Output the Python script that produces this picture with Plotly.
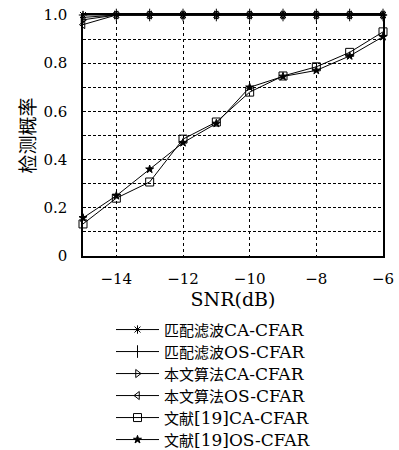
import plotly.graph_objects as go

snr = [-15, -14, -13, -12, -11, -10, -9, -8, -7, -6]
mf_ca = [1.0, 1, 1, 1, 1, 1, 1, 1, 1, 1]
mf_os = [0.99, 1, 1, 1, 1, 1, 1, 1, 1, 1]
our_ca = [0.98, 1, 1, 1, 1, 1, 1, 1, 1, 1]
our_os = [0.96, 1, 1, 1, 1, 1, 1, 1, 1, 1]
ref_ca = [0.133, 0.24, 0.307, 0.485, 0.556, 0.68, 0.747, 0.785, 0.845, 0.93]
ref_os = [0.158, 0.25, 0.36, 0.47, 0.55, 0.70, 0.745, 0.77, 0.83, 0.91]

names_cn = ["匹配滤波", "匹配滤波", "本文算法", "本文算法", "文献", "文献"]
names_en = ["CA-CFAR", "OS-CFAR", "CA-CFAR", "OS-CFAR", "[19]CA-CFAR", "[19]OS-CFAR"]
series = [mf_ca, mf_os, our_ca, our_os, ref_ca, ref_os]
symbols = ["asterisk-open", "line-ns-open", "triangle-right-open",
           "triangle-left-open", "square-open", "star"]
sizes = [7, 9, 7, 7, 8, 6]

SERIF = "DejaVu Serif, Noto Sans CJK SC, serif"
CJK = "Noto Sans CJK SC"

PLOT_TOP, PLOT_BOTTOM = 15, 256
row_px = [330, 352, 374, 396, 418, 440]

fig = go.Figure()
for i, (cn, en, ys, sym, sz) in enumerate(zip(names_cn, names_en, series, symbols, sizes)):
    lg = "legend" if i == 0 else f"legend{i + 1}"
    label = f"<span style=\"font-family:{CJK};font-size:15px\">{cn}</span>{en}"
    fig.add_trace(go.Scatter(
        x=snr, y=ys, name=label, mode="lines+markers",
        line=dict(color="black", width=1),
        marker=dict(symbol=sym, size=sz, color="black",
                    line=dict(color="black", width=1)),
        cliponaxis=False, legend=lg,
    ))

legends = {}
for i, py in enumerate(row_px):
    key = "legend" if i == 0 else f"legend{i + 1}"
    legends[key] = dict(
        x=(111 - 83) / 300, y=(PLOT_BOTTOM - py) / (PLOT_BOTTOM - PLOT_TOP),
        xanchor="left", yanchor="middle",
        font=dict(family=SERIF, size=17, color="black"),
        itemwidth=43, bgcolor="rgba(0,0,0,0)", borderwidth=0,
    )

fig.update_layout(
    width=399, height=450,
    margin=dict(l=83, r=16, t=PLOT_TOP, b=450 - PLOT_BOTTOM, autoexpand=False),
    paper_bgcolor="white", plot_bgcolor="white",
    font=dict(family=SERIF, size=15, color="black"),
    showlegend=True,
    xaxis=dict(
        range=[-15, -6], tickvals=[-14, -12, -10, -8, -6],
        showline=True, linecolor="black", linewidth=1.5, mirror=True,
        showgrid=True, gridcolor="black", gridwidth=1, griddash="dot",
        zeroline=False, ticks="", ticklabelstandoff=8,
        tickfont=dict(family=SERIF, size=15),
        title=dict(text="SNR(dB)", font=dict(family=SERIF, size=19), standoff=6),
    ),
    yaxis=dict(
        range=[0, 1.0], tickvals=[0, 0.2, 0.4, 0.6, 0.8, 1.0],
        ticktext=["0", "0.2", "0.4", "0.6", "0.8", "1.0"],
        showline=True, linecolor="black", linewidth=1.5, mirror=True,
        showgrid=True, gridcolor="black", gridwidth=1, griddash="3px,2px",
        minor=dict(dtick=0.1, showgrid=True, gridcolor="black",
                   gridwidth=1, griddash="3px,2px", ticks=""),
        zeroline=False, ticks="", ticklabelstandoff=11,
        tickfont=dict(family=SERIF, size=15),
        title=dict(text="检测概率", font=dict(family=CJK, size=19), standoff=3),
    ),
)
fig.update_layout(**legends)

fig.write_html("out.html")
